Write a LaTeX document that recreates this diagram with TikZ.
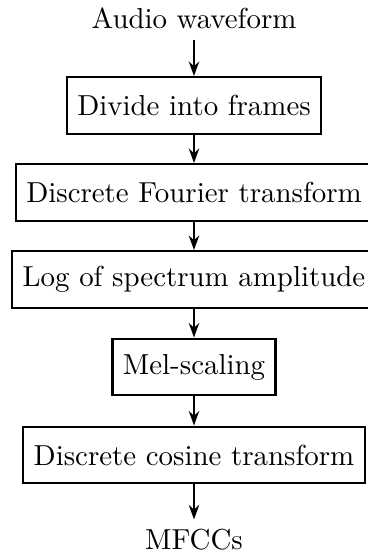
\documentclass[tikz,border=0pt]{standalone}
\usetikzlibrary{arrows.meta}
\begin{document}
\begin{tikzpicture}[x=1pt,y=1pt,
  stage/.style={draw,thick,rectangle,minimum height=19.6pt,inner xsep=3.6pt},
  flow/.style={thick,-{Stealth[length=5pt,width=3.6pt]}}]
\useasboundingbox (-67.13,0) rectangle (59.86,-193.43);
\node[anchor=base] (in) at (0,-10.03) {Audio waveform};
\node[stage] (frames) at (0,-36.5) {Divide into frames};
\node[stage] (dft) at (0,-66.61) {Discrete Fourier transform};
\node[stage] (log) at (0,-96.71) {Log of spectrum amplitude};
\node[stage] (mel) at (0,-126.99) {Mel-scaling};
\node[stage] (dct) at (0,-157.44) {Discrete cosine transform};
\node[anchor=base] (out) at (0,-190.31) {MFCCs};
\draw[flow] (in) -- (frames);
\draw[flow] (frames) -- (dft);
\draw[flow] (dft) -- (log);
\draw[flow] (log) -- (mel);
\draw[flow] (mel) -- (dct);
\draw[flow] (dct) -- (out);
\end{tikzpicture}
\end{document}
